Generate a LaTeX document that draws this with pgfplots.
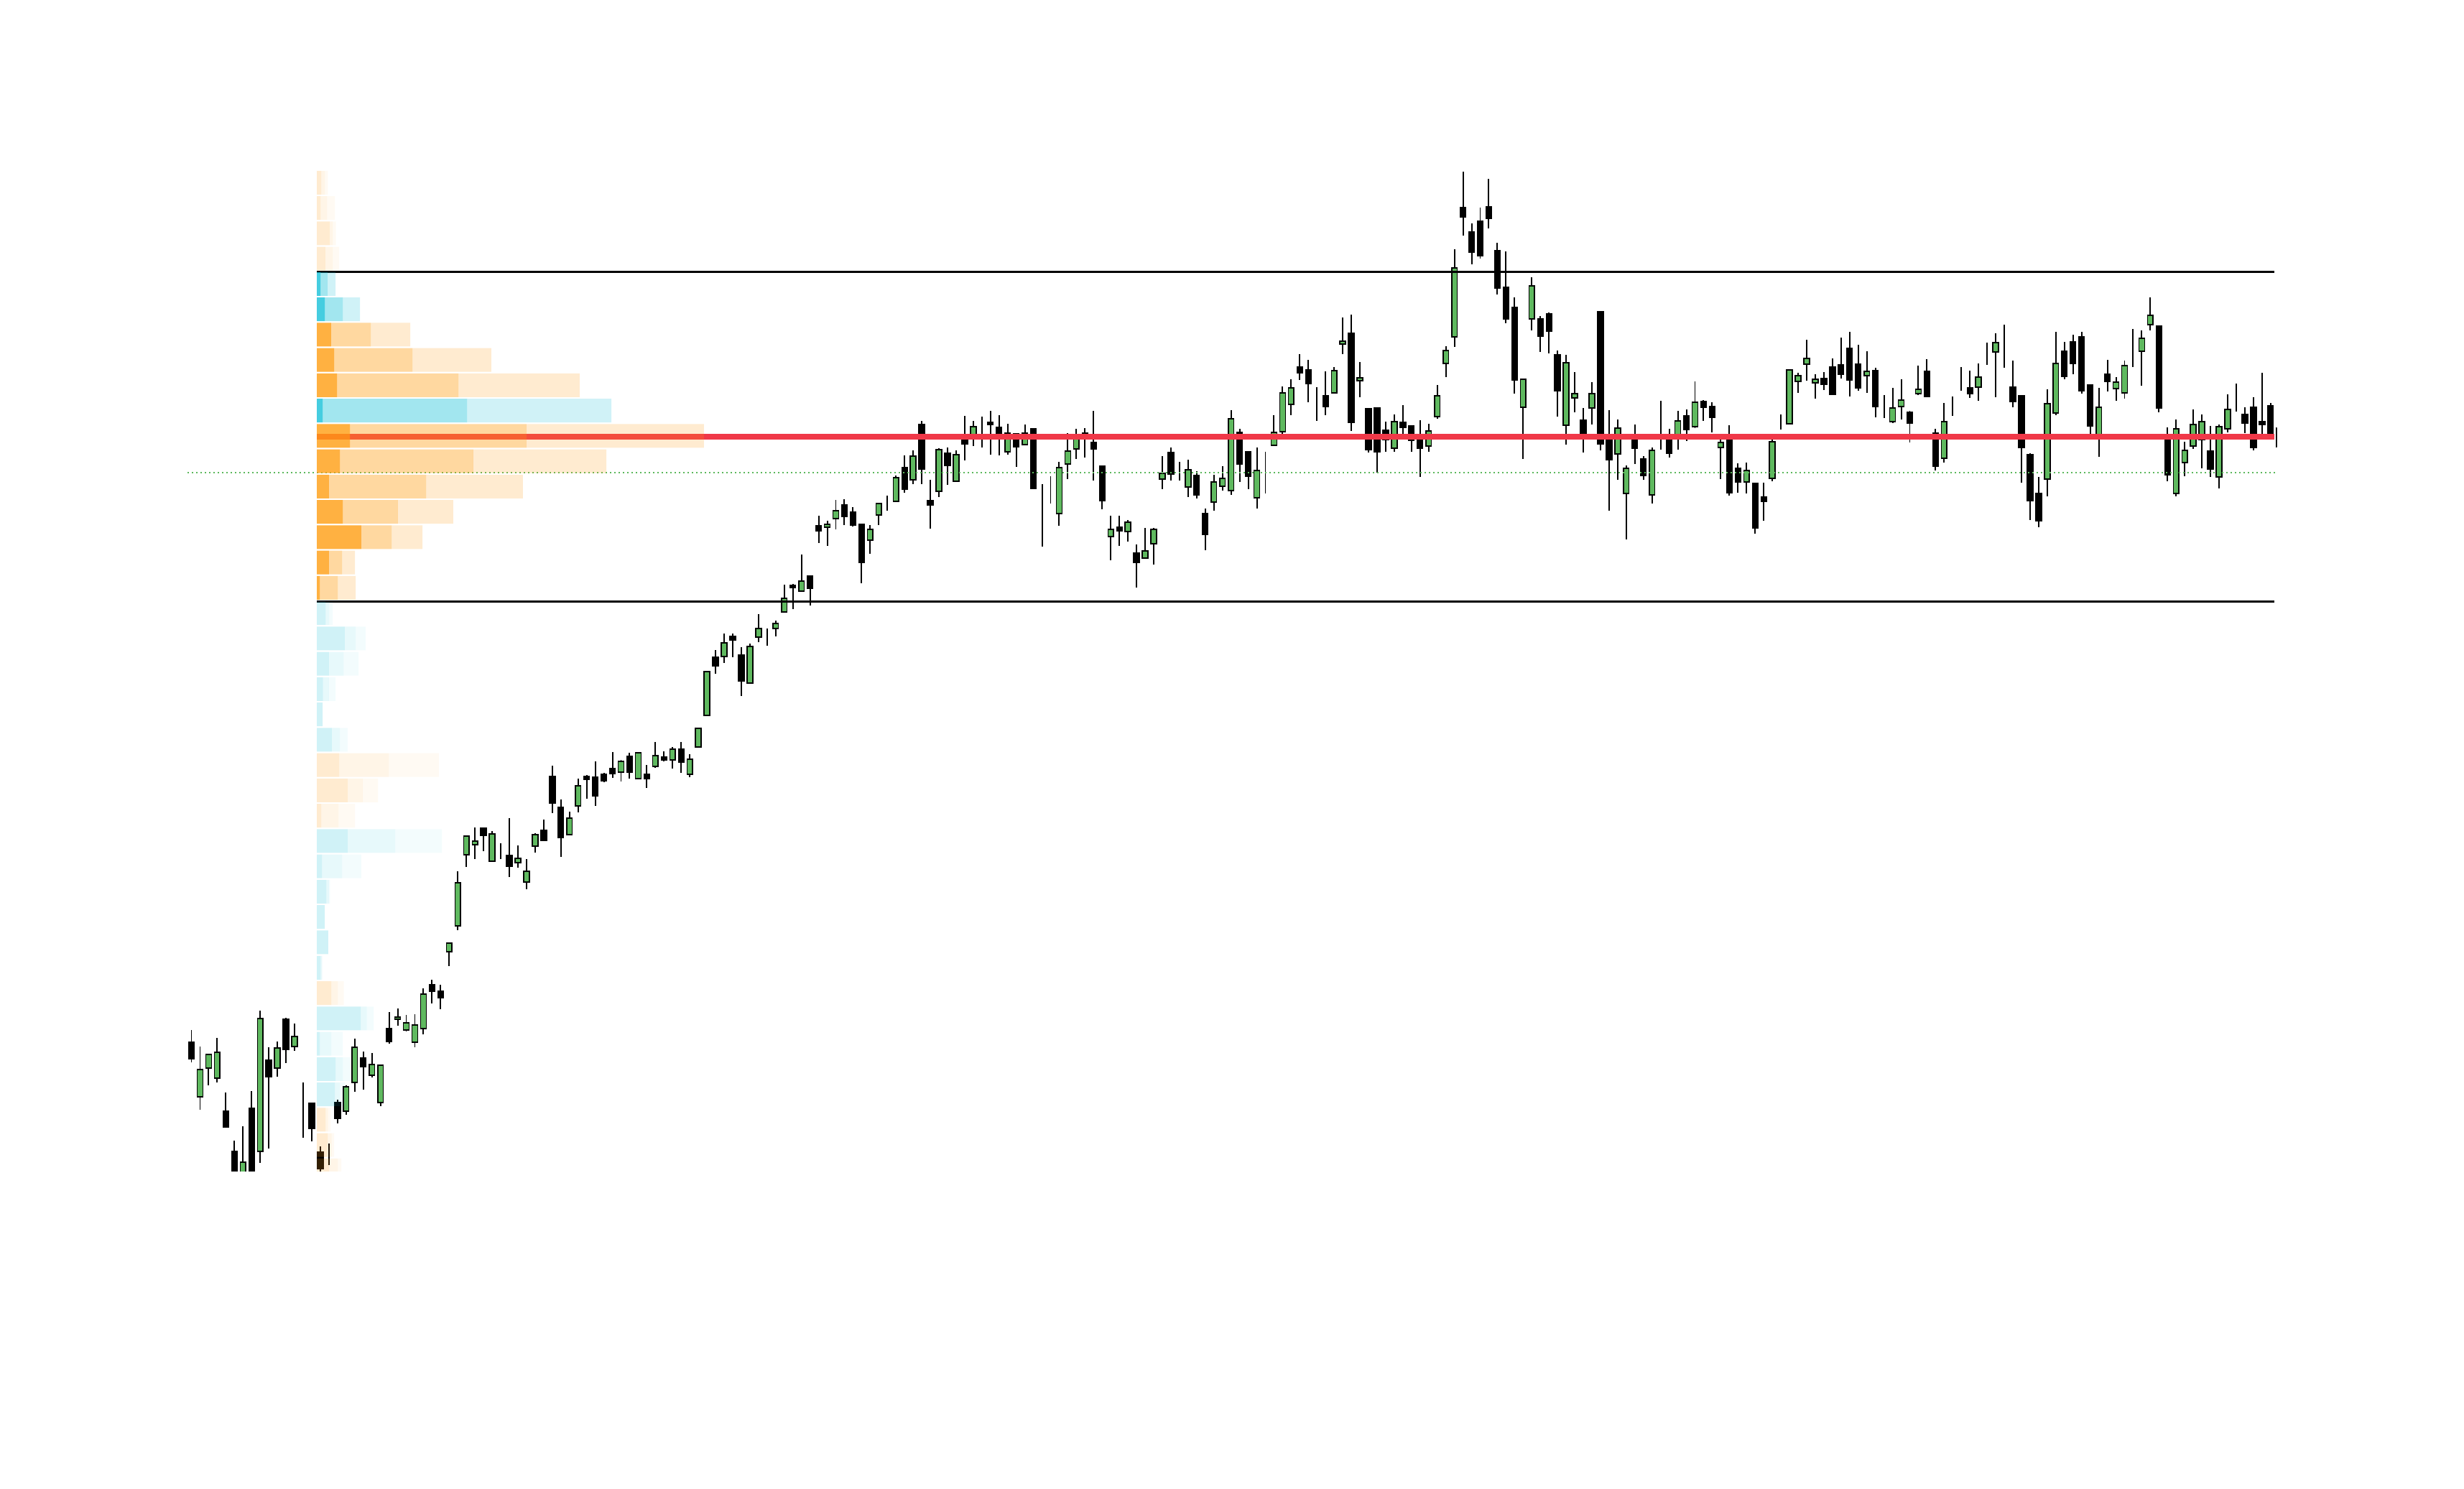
\documentclass[border=0pt]{standalone}
\usepackage{pgfplots}
\pgfplotsset{compat=1.18}
\usepackage{pgfplotstable}

\definecolor{upgreen}{RGB}{95,185,95}
\definecolor{dotgreen}{RGB}{92,184,92}
\definecolor{pocred}{RGB}{240,56,72}
\definecolor{vporange}{RGB}{255,157,18}
\definecolor{vpcyan}{RGB}{22,192,216}

% daily candles: index, open, high, low, close
\pgfplotstableread{
i o h l c
0 62.1 63.8 59.3 59.8
1 54.5 61.5 52.7 58.3
2 58.5 60.5 56.1 60.4
3 57.1 62.7 56.5 60.7
4 52.5 55.1 50.2 50.3
5 46.9 48.4 42.5 43.5
6 43.0 50.4 42.0 45.4
7 52.9 55.3 42.5 43.5
8 46.9 66.5 45.3 65.4
9 59.6 61.4 47.3 57.3
10 58.5 62.2 57.3 61.3
11 65.3 65.5 59.2 61.1
12 61.5 64.7 60.9 62.9
13 53.8 56.5 48.8 53.8
14 53.6 53.7 48.3 50.1
15 46.8 47.6 43.8 44.5
16 46.9 48.0 45.0 46.9
17 53.7 54.1 50.8 51.5
18 52.5 56.1 52.0 55.9
19 56.5 62.6 55.2 61.4
20 59.9 60.8 55.5 58.7
21 57.5 60.6 57.2 59.0
22 53.7 58.9 53.2 58.9
23 64.0 66.3 61.9 62.2
24 65.3 66.8 64.4 65.6
25 63.8 65.9 63.6 64.8
26 62.1 66.0 61.4 64.5
27 64.0 69.6 63.2 68.8
28 70.1 70.8 67.5 69.2
29 69.2 70.1 66.7 68.3
30 74.7 76.0 72.7 75.9
31 78.3 85.9 77.7 84.3
32 88.2 90.9 86.5 90.8
33 89.6 92.0 87.6 90.1
34 91.9 92.0 88.7 90.9
35 87.3 91.5 87.3 91.1
36 89.7 89.8 87.6 89.7
37 88.1 93.3 85.1 86.6
38 87.1 89.5 86.4 87.7
39 84.4 87.6 83.4 85.9
40 89.4 91.2 88.5 91.0
41 91.6 93.1 90.1 90.2
42 99.1 100.6 94.0 95.4
43 94.8 95.9 87.9 90.6
44 91.0 94.2 91.0 93.3
45 95.0 98.8 94.1 97.8
46 99.1 99.3 96.0 98.7
47 99.0 101.2 95.0 96.4
48 99.4 99.6 98.3 98.5
49 100.2 102.5 98.9 99.5
50 99.7 101.4 98.4 101.2
51 101.9 102.4 98.8 99.7
52 98.8 102.5 98.7 102.4
53 99.4 100.7 97.5 98.8
54 100.5 103.9 100.3 102.0
55 101.8 102.6 101.2 101.4
56 101.4 103.2 100.2 102.9
57 102.9 103.9 99.6 101.1
58 99.4 102.2 99.0 101.5
59 103.2 105.9 103.1 105.8
60 107.6 113.8 107.5 113.7
61 115.7 116.7 113.4 114.5
62 115.8 119.0 114.9 117.7
63 118.6 119.0 115.7 118.1
64 116.0 117.1 110.3 112.4
65 112.1 117.6 112.0 117.2
66 118.5 121.7 117.8 119.7
67 118.4 119.7 117.3 118.4
68 119.7 120.8 118.6 120.4
69 122.0 125.8 121.9 123.9
70 125.7 125.9 122.4 125.4
71 124.9 130.0 124.8 126.3
72 127.0 127.1 122.9 125.3
73 134.0 135.4 131.6 133.3
74 133.8 134.7 131.2 134.2
75 135.0 137.6 133.5 136.1
76 136.9 137.7 134.1 135.3
77 135.9 136.6 133.9 134.1
78 134.2 134.2 126.0 128.9
79 132.0 134.1 130.1 133.5
80 135.5 137.2 134.1 137.1
81 136.9 138.2 136.1 136.9
82 137.4 141.0 137.4 140.7
83 142.1 143.8 138.6 139.1
84 140.4 144.5 139.8 143.7
85 148.1 148.6 139.8 141.9
86 137.5 140.4 133.6 136.9
87 138.8 144.8 138.0 144.6
88 144.1 144.9 139.7 142.4
89 140.2 144.5 140.1 143.9
90 146.5 149.3 143.1 145.4
91 146.7 148.6 145.1 147.8
92 147.1 149.2 144.9 147.1
93 148.4 150.0 143.9 148.1
94 147.7 149.4 143.8 146.5
95 144.3 148.2 143.9 146.9
96 146.8 146.9 142.2 145.0
97 145.3 148.1 145.2 146.9
98 147.5 147.6 139.1 139.2
99 138.9 139.8 131.1 138.9
100 138.5 140.9 137.1 138.5
101 135.7 142.9 134.0 142.1
102 142.6 146.9 140.5 144.4
103 144.7 147.5 143.3 146.5
104 146.9 147.6 143.5 146.7
105 145.6 150.0 140.3 144.7
106 142.3 142.4 136.3 137.5
107 132.5 135.4 129.2 133.5
108 133.8 135.4 131.2 133.3
109 133.2 134.8 131.8 134.5
110 130.2 131.4 125.4 128.9
111 129.5 133.7 129.4 130.5
112 131.5 133.7 128.6 133.5
113 140.5 143.7 139.1 141.3
114 144.2 144.9 140.3 141.2
115 142.0 142.9 140.3 142.0
116 139.4 143.2 138.0 141.8
117 141.0 141.6 137.8 138.3
118 135.7 136.4 130.6 132.8
119 137.3 141.1 136.1 140.1
120 139.5 142.3 138.9 140.6
121 138.9 150.1 138.3 148.9
122 147.0 147.5 140.1 142.6
123 144.3 144.3 139.1 140.9
124 137.9 144.9 136.4 141.7
125 142.4 144.3 138.5 142.4
126 145.2 149.4 145.1 147.0
127 147.1 153.4 146.8 152.5
128 150.9 154.4 149.4 153.2
129 156.1 157.9 154.3 155.3
130 155.7 157.1 151.2 153.8
131 151.4 153.3 148.6 151.4
132 152.1 155.5 149.4 150.6
133 152.5 156.1 152.4 155.6
134 159.3 163.0 157.9 159.7
135 160.8 163.4 147.2 148.4
136 154.2 156.8 151.9 154.6
137 150.3 150.4 144.2 144.6
138 150.4 150.4 141.4 144.3
139 147.3 148.5 144.3 146.0
140 144.8 149.5 144.3 148.5
141 148.4 150.8 146.8 147.7
142 147.9 148.0 144.3 145.9
143 146.3 148.7 140.8 144.8
144 145.1 148.2 144.3 147.2
145 149.2 153.6 148.9 152.1
146 156.6 159.0 154.7 158.4
147 160.3 172.5 158.9 169.9
148 178.3 183.3 174.4 177.0
149 174.9 176.1 170.4 172.1
150 176.4 178.3 171.2 171.6
151 178.4 182.3 175.4 176.8
152 172.3 173.4 166.2 167.1
153 167.2 172.2 162.2 162.8
154 164.4 165.8 152.4 154.3
155 150.5 154.5 143.3 154.4
156 162.8 168.6 161.2 167.4
157 162.8 163.2 158.2 160.4
158 163.5 163.7 158.0 161.1
159 157.8 158.4 149.2 152.8
160 148.0 157.8 145.3 156.7
161 151.8 155.4 149.8 152.4
162 148.7 150.4 144.2 146.7
163 150.4 154.0 148.1 152.4
164 163.8 163.9 144.5 145.4
165 145.9 150.1 136.1 143.2
166 144.0 148.8 140.4 147.6
167 138.5 142.4 132.1 142.0
168 146.1 148.1 142.6 144.8
169 143.3 143.7 140.4 141.0
170 138.3 144.9 137.1 144.5
171 146.5 151.4 144.6 146.5
172 145.9 147.5 143.5 144.1
173 146.5 150.0 144.6 148.6
174 149.3 150.2 145.8 147.4
175 147.8 154.1 147.6 151.2
176 151.3 151.5 148.6 150.5
177 150.6 151.2 147.0 149.1
178 144.9 146.2 140.5 145.6
179 145.9 148.0 138.2 138.6
180 142.0 142.7 138.6 140.1
181 140.1 142.8 138.5 141.7
182 139.9 139.9 132.9 133.7
183 138.0 140.0 134.7 137.4
184 140.6 146.0 140.2 145.7
185 149.1 149.5 147.4 149.1
186 148.2 155.8 148.1 155.7
187 154.1 155.3 152.5 154.9
188 156.5 159.9 154.2 157.3
189 153.9 155.1 151.7 154.4
190 154.5 155.4 152.9 153.7
191 156.1 157.3 152.2 152.3
192 156.4 160.2 154.5 155.1
193 158.7 161.0 152.0 154.3
194 156.5 159.2 152.8 153.2
195 154.9 158.3 152.5 155.5
196 155.6 156.0 149.1 150.6
197 150.5 152.2 149.0 150.5
198 148.5 153.2 148.3 150.4
199 150.6 154.4 148.8 151.5
200 149.8 150.0 145.6 148.3
201 152.4 156.3 152.2 153.0
202 155.5 157.2 151.9 152.0
203 146.9 147.5 141.7 142.3
204 143.4 151.1 142.8 148.5
205 150.4 152.0 149.3 150.4
206 153.7 156.1 152.8 153.7
207 153.2 155.6 151.8 152.4
208 153.3 156.6 151.4 154.7
209 158.3 159.5 156.4 158.3
210 158.2 160.8 151.9 159.5
211 158.1 162.0 156.0 158.1
212 153.3 157.0 150.5 151.3
213 152.1 152.2 140.0 144.9
214 143.9 144.1 134.8 137.5
215 138.5 140.8 133.8 134.7
216 140.5 153.0 138.1 151.0
217 149.7 161.0 149.4 156.6
218 158.3 159.6 154.4 154.8
219 159.6 160.6 155.1 156.6
220 160.3 161.0 152.4 152.8
221 153.6 153.7 146.8 147.9
222 146.5 153.2 143.6 150.5
223 155.1 157.1 152.7 154.1
224 153.1 154.7 151.4 154.0
225 152.5 157.0 151.7 156.3
226 158.5 161.4 156.1 158.5
227 158.3 161.2 153.5 160.1
228 162.0 165.8 161.2 163.3
229 161.8 161.9 149.8 150.4
230 146.7 147.7 140.2 141.1
231 138.5 148.8 138.1 147.5
232 142.8 145.7 140.9 144.5
233 145.1 150.2 144.7 148.1
234 146.0 149.5 142.0 148.5
235 144.4 147.9 140.8 141.9
236 140.8 148.1 139.2 147.8
237 147.5 152.3 147.0 150.2
238 151.8 153.8 149.9 151.8
239 149.5 150.5 146.9 148.3
240 150.5 151.9 144.5 144.9
241 148.5 155.3 146.8 148.1
242 150.7 151.1 146.4 146.5
243 147.6 148.2 144.6 145.0
}\ohlc

% volume profile: bin centre, three stacked segments per colour group
% o = orange (value area), c = cyan (value area), f = orange (outside), g = cyan (outside)
\pgfplotstableread{
p oa ob oc ca cb cc fa fb fc ga gb gc
181.750 0 0 0 0 0 0 6.1 5.1 4.1 0 0 0
178.225 0 0 0 0 0 0 5.1 9.2 10.7 0 0 0
174.700 0 0 0 0 0 0 17.9 4.1 4.6 0 0 0
171.175 0 0 0 0 0 0 11.8 10.2 9.1 0 0 0
167.650 0 0 0 5.1 9.7 11.2 0 0 0 0 0 0
164.125 0 0 0 11.2 25 24 0 0 0 0 0 0
160.600 19.9 55.1 55.1 0 0 0 0 0 0 0 0 0
157.075 24 109.2 109.7 0 0 0 0 0 0 0 0 0
153.550 28.1 168.9 168.8 0 0 0 0 0 0 0 0 0
150.025 0 0 0 8.2 201 201 0 0 0 0 0 0
146.500 46 245.9 246.9 0 0 0 0 0 0 0 0 0
142.975 32.2 185.7 185.2 0 0 0 0 0 0 0 0 0
139.450 16.9 135.2 134.7 0 0 0 0 0 0 0 0 0
135.925 36.2 76.6 77 0 0 0 0 0 0 0 0 0
132.400 61.8 42.3 42.9 0 0 0 0 0 0 0 0 0
128.875 16.9 18.3 17.9 0 0 0 0 0 0 0 0 0
125.350 4.1 25 25 0 0 0 0 0 0 0 0 0
121.825 0 0 0 0 0 0 0 0 0 12.3 5.1 4.6
118.300 0 0 0 0 0 0 0 0 0 38.8 15.3 13.8
114.775 0 0 0 0 0 0 0 0 0 16.9 20.4 20.9
111.250 0 0 0 0 0 0 0 0 0 8.7 8.2 9.1
107.725 0 0 0 0 0 0 0 0 0 8.2 0 0
104.200 0 0 0 0 0 0 0 0 0 20.9 11.3 10.7
100.675 0 0 0 0 0 0 31.1 68.9 69.9 0 0 0
97.150 0 0 0 0 0 0 42.9 20.9 21.4 0 0 0
93.625 0 0 0 0 0 0 6.1 24 23 0 0 0
90.100 0 0 0 0 0 0 0 0 0 42.9 66.3 64.8
86.575 0 0 0 0 0 0 0 0 0 7.2 28 26.6
83.050 0 0 0 0 0 0 0 0 0 13.3 3.6 1.5
79.525 0 0 0 0 0 0 0 0 0 11.2 0 0
76.000 0 0 0 0 0 0 0 0 0 15.8 0 0
72.475 0 0 0 0 0 0 0 0 0 5 2 0.5
68.950 0 0 0 0 0 0 20 9 8.7 0 0 0
65.425 0 0 0 0 0 0 0 0 0 61 8.7 9.3
61.900 0 0 0 0 0 0 0 0 0 4 16 16
58.375 0 0 0 0 0 0 0 0 0 26 10 11
54.850 0 0 0 0 0 0 0 0 0 25 7 7
51.325 0 0 0 0 0 0 12 3.7 3.3 0 0 0
47.800 0 0 0 0 0 0 15 5.7 3.3 0 0 0
44.275 0 0 0 0 0 0 17 12 5 0 0 0
}\profile

\pgfplotsset{
    chart/.style={
        at={(2.58cm,4.42cm)}, anchor=south west,
        scale only axis, width=29.115cm, height=13.94cm,
        hide axis, ymin=44.2, ymax=183.6,
    },
    candlex/.style={xmin=-0.711, xmax=242.73},
}

\begin{document}
\begin{tikzpicture}
\path[use as bounding box] (0,0) rectangle (34.30cm,20.72cm);

% wicks
\begin{axis}[chart, candlex]
\addplot[draw=none, mark=none,
    error bars/.cd, y dir=plus, y explicit, error mark=none,
    error bar style={draw=black, line width=0.55pt}]
    table[x=i, y=l, y error plus expr=\thisrow{h}-\thisrow{l}] {\ohlc};
\end{axis}

% bodies
\begin{axis}[chart, candlex, ybar stacked, bar width=0.65]
\addplot[draw=none, fill=none]
    table[x=i, y expr={min(\thisrow{o},\thisrow{c})}] {\ohlc};
\addplot[draw=black, line width=0.45pt, fill=upgreen]
    table[x=i, y expr={max(\thisrow{c}-\thisrow{o},0)}] {\ohlc};
\addplot[draw=black, line width=0.45pt, fill=black]
    table[x=i, y expr={max(\thisrow{o}-\thisrow{c},0)}] {\ohlc};
\end{axis}

% value area high / low, point of control, reference level
\begin{axis}[chart, candlex]
\addplot[black, line width=0.94pt] coordinates {(14.59,169.32) (242.43,169.32)};
\addplot[black, line width=0.94pt] coordinates {(14.59,123.44) (242.43,123.44)};
\addplot[pocred, line width=2.13pt] coordinates {(14.59,146.42) (242.43,146.42)};
\addplot[dotgreen, line width=0.55pt, dash pattern=on 0.02cm off 0.04cm]
    coordinates {(-0.46,141.43) (242.51,141.43)};
\end{axis}

% volume profile
\begin{axis}[chart, xmin=-183, xmax=2728.5, xbar stacked, bar width=3.3]
\addplot[draw=none, fill=vporange, fill opacity=0.8] table[x=oa, y=p] {\profile};
\addplot[draw=none, fill=vporange, fill opacity=0.4] table[x=ob, y=p] {\profile};
\addplot[draw=none, fill=vporange, fill opacity=0.2] table[x=oc, y=p] {\profile};
\addplot[draw=none, fill=vpcyan, fill opacity=0.8] table[x=ca, y=p] {\profile};
\addplot[draw=none, fill=vpcyan, fill opacity=0.4] table[x=cb, y=p] {\profile};
\addplot[draw=none, fill=vpcyan, fill opacity=0.2] table[x=cc, y=p] {\profile};
\addplot[draw=none, fill=vporange, fill opacity=0.2] table[x=fa, y=p] {\profile};
\addplot[draw=none, fill=vporange, fill opacity=0.1] table[x=fb, y=p] {\profile};
\addplot[draw=none, fill=vporange, fill opacity=0.05] table[x=fc, y=p] {\profile};
\addplot[draw=none, fill=vpcyan, fill opacity=0.2] table[x=ga, y=p] {\profile};
\addplot[draw=none, fill=vpcyan, fill opacity=0.1] table[x=gb, y=p] {\profile};
\addplot[draw=none, fill=vpcyan, fill opacity=0.05] table[x=gc, y=p] {\profile};
\end{axis}
\end{tikzpicture}
\end{document}
